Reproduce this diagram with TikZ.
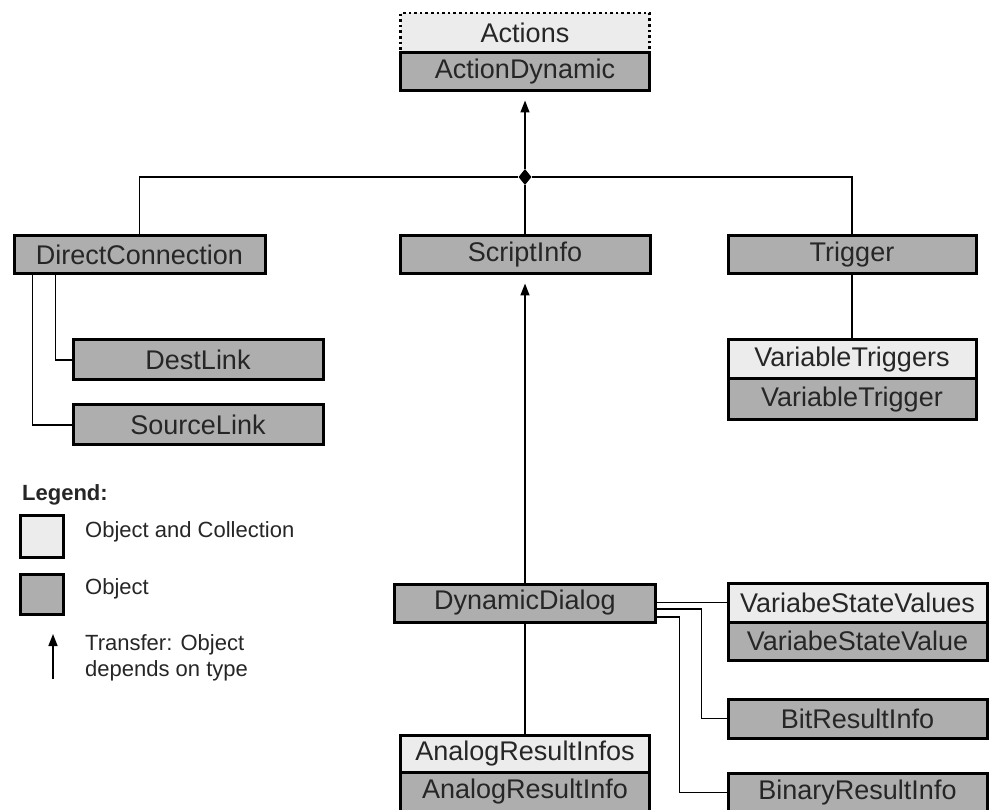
\documentclass[tikz,border=0pt]{standalone}
\usepackage{fontspec}
\setmainfont{Liberation Sans}
\usetikzlibrary{arrows.meta,shapes.geometric}
\definecolor{objfill}{RGB}{174,174,174}
\definecolor{collfill}{RGB}{236,236,236}
\begin{document}
\begin{tikzpicture}[x=1pt,y=-1pt,
  box/.style={draw=black, line width=3pt, inner sep=0pt, minimum height=38pt,
    font=\fontsize{27}{30}\selectfont, text=black!85},
  objbox/.style={box, fill=objfill},
  collbox/.style={box, fill=collfill},
  link/.style={line width=1.6pt, draw=black},
  tip/.style={-{Triangle[length=12pt,width=9pt]}},
  transfer/.style={link, tip, shorten >=8pt},
  legtext/.style={anchor=west, font=\fontsize{22}{26}\selectfont, text=black!85, inner sep=0pt, align=left}]
\clip (0,0) rectangle (989,810);
\fill[white] (0,0) rectangle (989,810);

% top: collection with its object
\node[collbox, dash pattern=on 2.6pt off 3pt, line width=2.8pt, minimum width=249pt, minimum height=39pt] (actions) at (525,32.5) {Actions};
\node[objbox, minimum width=249pt] (actdyn) at (525,72) {ActionDynamic};

% second level
\node[objbox, minimum width=251pt] (dirconn) at (139.5,255) {DirectConnection};
\node[objbox, minimum width=250pt] (scriptinfo) at (525,255) {ScriptInfo};
\node[objbox, minimum width=248pt] (trigger) at (852,255) {Trigger};

% children of DirectConnection
\node[objbox, minimum width=250pt, minimum height=40pt] (destlink) at (198,360) {DestLink};
\node[objbox, minimum width=250pt, minimum height=40pt] (sourcelink) at (198,425) {SourceLink};

% children of Trigger
\node[collbox, minimum width=248pt, minimum height=39pt] (vartriggers) at (852,359.5) {VariableTriggers};
\node[objbox, minimum width=248pt, minimum height=41pt] (vartrigger) at (852,399.5) {VariableTrigger};

% DynamicDialog and its children
\node[objbox, minimum width=261pt] (dyndialog) at (525,603) {DynamicDialog};
\node[collbox, minimum width=259pt, minimum height=39pt] (vsvs) at (857.5,602.5) {VariabeStateValues};
\node[objbox, minimum width=259pt] (vsv) at (857.5,641) {VariabeStateValue};
\node[objbox, minimum width=259pt, minimum height=39pt] (bitres) at (857.5,718.5) {BitResultInfo};
\node[objbox, minimum width=259pt, minimum height=39pt] (binres) at (857.5,792.5) {BinaryResultInfo};
\node[collbox, minimum width=249pt, minimum height=37pt] (analogs) at (525,753.5) {AnalogResultInfos};
\node[objbox, minimum width=249pt, minimum height=40pt] (analog) at (525,792) {AnalogResultInfo};

% junction below ActionDynamic
\node[diamond, fill=black, inner sep=0pt, minimum width=13pt, minimum height=16pt] (jn) at (525,177) {};

% connectors
\draw[transfer] (jn) -- (actdyn.south);
\draw[link] (dirconn.north) |- (jn) -| (trigger.north);
\draw[link] (scriptinfo.north) -- (jn);
\draw[link] ([xshift=43pt]dirconn.south west) |- (destlink.west);
\draw[link] ([xshift=20pt]dirconn.south west) |- (sourcelink.west);
\draw[link] (trigger.south) -- (vartriggers.north);
\draw[transfer] (dyndialog.north) -- (scriptinfo.south);
\draw[link] (dyndialog.south) -- (analogs.north);
\draw[link] (dyndialog.east |- vsvs.west) -- (vsvs.west);
\draw[link] ([yshift=-6pt]dyndialog.east) -| ([xshift=-25pt]bitres.west) -- (bitres.west);
\draw[link] ([yshift=-14pt]dyndialog.east) -| ([xshift=-47pt]binres.west) -- (binres.west);

% legend
\node[legtext, font=\bfseries\fontsize{22}{26}\selectfont] (legtitle) at (22,495) {Legend:};
\node[collbox, minimum width=43pt, minimum height=42pt] (legcoll) at (41.5,536) {};
\node[legtext] (legcolltext) at (85,532) {Object and Collection};
\node[objbox, minimum width=43pt, minimum height=40pt] (legobj) at (41.5,594) {};
\node[legtext] (legobjtext) at (85,589) {Object};
\coordinate (legbase) at (53,679);
\coordinate (legtip) at (53,634);
\draw[link, tip] (legbase) -- (legtip);
\node[legtext] (legarrowtext) at (85,658) {Transfer: Object\\depends on type};
\end{tikzpicture}
\end{document}
